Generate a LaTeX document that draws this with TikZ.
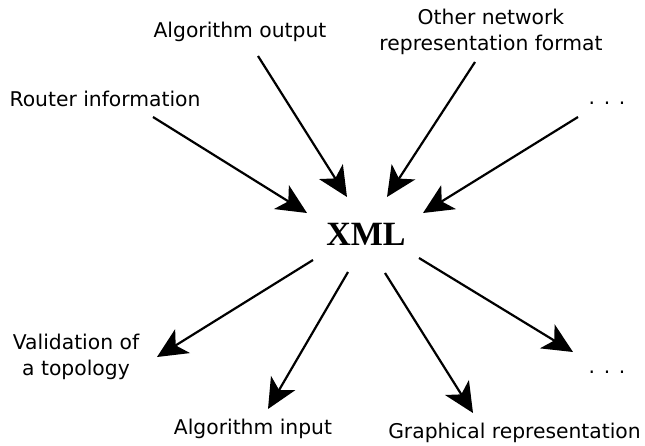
\documentclass[tikz,border=0pt]{standalone}
\usepackage{fontspec}
\setmainfont{DejaVu Sans}
\newfontfamily\xmlfont{Liberation Serif}
\usetikzlibrary{arrows.meta}
\begin{document}
\begin{tikzpicture}[x=1pt,y=-1pt,
  lbl/.style={font=\fontsize{20.3}{26}\selectfont, inner sep=0pt, align=center, anchor=base},
  conn/.style={line width=2.2pt, -{Stealth[length=30pt,width=28pt,inset=8pt]}}]
\useasboundingbox (0,0) rectangle (645,445);
\node[font=\xmlfont\fontsize{34}{40}\selectfont\bfseries, inner sep=0pt, anchor=base] (xml) at (366,245) {XML};
% sources
\node[lbl] (router) at (105,106) {Router information};
\node[lbl] (algout) at (240,37) {Algorithm output};
\node[lbl] (other) at (491,50) {Other network\\representation format};
\node[lbl] (dotsA) at (607,104) {. . .};
% targets
\node[lbl] (valid) at (76,375) {Validation of\\a topology};
\node[lbl] (algin) at (253,434) {Algorithm input};
\node[lbl] (graph) at (514.5,438) {Graphical representation};
\node[lbl] (dotsB) at (607,373) {. . .};
% connector anchors
\coordinate (s1) at (153,117);
\coordinate (t1) at (307,213);
\coordinate (s2) at (258,56);
\coordinate (t2) at (347,197);
\coordinate (s3) at (475,62);
\coordinate (t3) at (387,197);
\coordinate (s4) at (578,117);
\coordinate (t4) at (423,213);
\coordinate (s5) at (313,260);
\coordinate (t5) at (157,357);
\coordinate (s6) at (348,272);
\coordinate (t6) at (268,409);
\coordinate (s7) at (385,273);
\coordinate (t7) at (473,413);
\coordinate (s8) at (419,258);
\coordinate (t8) at (573,352);
\draw[conn] (s1) -- (t1);
\draw[conn] (s2) -- (t2);
\draw[conn] (s3) -- (t3);
\draw[conn] (s4) -- (t4);
\draw[conn] (s5) -- (t5);
\draw[conn] (s6) -- (t6);
\draw[conn] (s7) -- (t7);
\draw[conn] (s8) -- (t8);
\end{tikzpicture}
\end{document}
